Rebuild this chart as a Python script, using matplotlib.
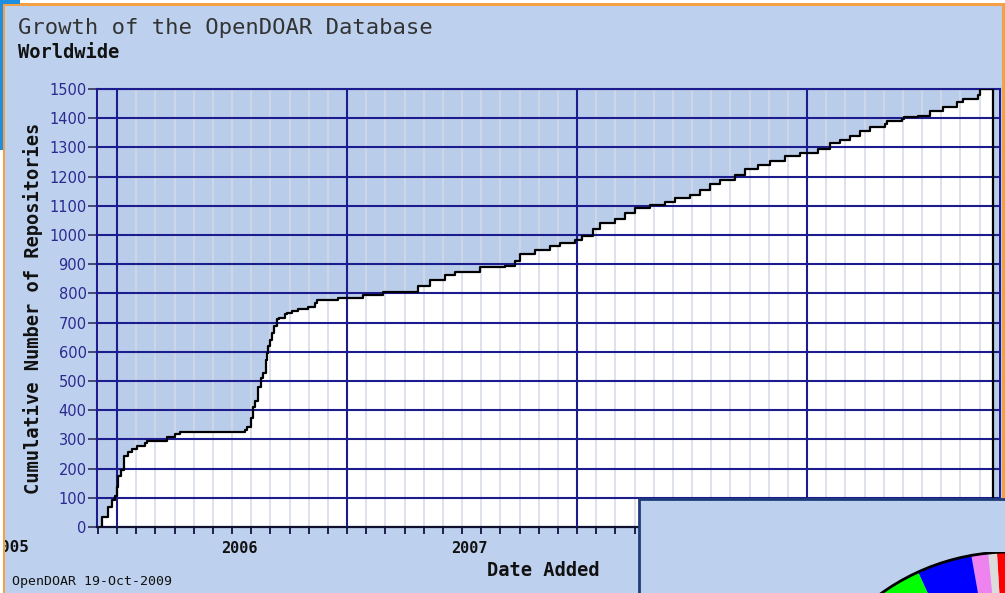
import matplotlib
matplotlib.use("Agg")
import matplotlib.pyplot as plt
from matplotlib.patches import Rectangle, Circle
import numpy as np

# ---------------- data ----------------
# date added (decimal year) at which the cumulative count steps up, and the new count
step_dates = [2005.9335, 2005.9622, 2005.9783, 2005.9913, 2005.9978, 2006.0043, 2006.0174,
              2006.0304, 2006.0465, 2006.0639, 2006.0857, 2006.1217, 2006.1291, 2006.2161,
              2006.2522, 2006.2739, 2006.5565, 2006.5652, 2006.5826, 2006.5913, 2006.6000,
              2006.6130, 2006.6261, 2006.6361, 2006.6478, 2006.6522, 2006.6578, 2006.6652,
              2006.6726, 2006.6826, 2006.6943, 2006.7043, 2006.7304, 2006.7404, 2006.7596,
              2006.7883, 2006.8317, 2006.8609, 2006.8683, 2006.9622, 2007.0709, 2007.1578,
              2007.3087, 2007.3609, 2007.4261, 2007.4696, 2007.5783, 2007.6870, 2007.7304,
              2007.7522, 2007.8174, 2007.8826, 2007.9261, 2007.9913, 2008.0217, 2008.0696,
              2008.1000, 2008.1652, 2008.2087, 2008.2522, 2008.3174, 2008.3826, 2008.4261,
              2008.4913, 2008.5348, 2008.5783, 2008.6217, 2008.6870, 2008.7304, 2008.7870,
              2008.8391, 2008.9043, 2008.9696, 2009.0478, 2009.1000, 2009.1435, 2009.1870,
              2009.2304, 2009.2739, 2009.3391, 2009.3478, 2009.4130, 2009.4196, 2009.4826,
              2009.5348, 2009.5913, 2009.6522, 2009.6783, 2009.7435, 2009.7522]
step_counts = [35, 67, 93, 105, 138, 174, 196,
               243, 256, 268, 276, 289, 295, 307,
               318, 325, 333, 344, 375, 410, 432,
               480, 510, 527, 573, 596, 619, 642,
               665, 688, 711, 716, 728, 734, 739,
               747, 754, 768, 779, 785, 796, 805,
               824, 845, 862, 872, 889, 893, 910,
               934, 948, 961, 972, 982, 995, 1020,
               1040, 1054, 1075, 1092, 1102, 1112, 1126,
               1136, 1153, 1174, 1188, 1205, 1226, 1239,
               1253, 1270, 1280, 1294, 1315, 1325, 1338,
               1357, 1369, 1380, 1391, 1397, 1403, 1409,
               1426, 1437, 1454, 1466, 1480, 1500]
report_date = 2009.8087          # 19-Oct-2009
x_start, x_end = 2005.913, 2009.839
years = [2006, 2007, 2008, 2009]
year_labels = ["2006", "2007"]
y_ticks = list(range(0, 1501, 100))

# partial pie in the overlapping panel (fractions, counter-clockwise from top)
pie_values = [0.94, 0.64, 1.22, 4.03, 20.0, 73.17]
pie_colors = ["#ff0000", "#dcdcdc", "#ee82ee", "#0000ff", "#00ff00", "#ffff00"]

# ---------------- styling ----------------
W, H = 1005, 593
BG = "#bdd1ee"
PLOT_BG = "#b9cdea"
DARK_BLUE = "#1c1c8e"
LABEL_BLUE = "#2a2a90"
MONO = "DejaVu Sans Mono"

fig = plt.figure(figsize=(W / 100, H / 100), dpi=100, facecolor=BG)

ax = fig.add_axes([97 / W, (H - 527) / H, 903 / W, 438 / H], zorder=1)
ax.set_facecolor(PLOT_BG)
ax.set_xlim(x_start, x_end)
ax.set_ylim(0, 1500)

# cumulative step curve
xs = [step_dates[0]] + step_dates + [report_date, report_date]
ys = [0] + step_counts + [step_counts[-1], 0]
ax.fill_between(xs, ys, step="post", color="white", lw=0, zorder=1)

# monthly light grid lines
months = np.arange(-1, 47) / 12.0 + 2006
minor = [m for m in months if abs(m - round(m)) > 1e-6 and x_start < m < x_end]
ax.vlines(minor, 0, 1500, colors="#d3dae7", lw=1.1, zorder=2)
# yearly and horizontal dark grid lines
ax.vlines(years, 0, 1500, colors=DARK_BLUE, lw=1.5, zorder=3)
ax.hlines(y_ticks[1:], x_start, x_end, colors=DARK_BLUE, lw=1.5, zorder=3)

ax.plot(xs, ys, drawstyle="steps-post", color="black", lw=1.6, zorder=4)

# axes / ticks
for side in ["left", "top", "right"]:
    ax.spines[side].set_color(DARK_BLUE)
    ax.spines[side].set_linewidth(1.5)
ax.spines["bottom"].set_color("#101030")
ax.spines["bottom"].set_linewidth(1.6)
ax.set_yticks(y_ticks)
ax.set_yticklabels([str(t) for t in y_ticks], color=LABEL_BLUE, fontsize=10.5,
                   fontfamily="DejaVu Sans")
ax.tick_params(axis="y", length=6.5, width=1.2, color="#303060", pad=1)
tick_months = [m for m in months if x_start < m < x_end]
ax.set_xticks(tick_months)
ax.set_xticklabels([])
ax.tick_params(axis="x", length=5, width=1.3, color="#101040", direction="out")

# year labels (centred within year spans)
for lab in year_labels:
    ax.text(int(lab) + 0.53, -0.05, lab, transform=ax.get_xaxis_transform(),
            ha="center", va="center", fontsize=11, fontweight="bold", fontfamily=MONO,
            color="#111111")
fig.text(0 / W, (H - 548) / H, "005", ha="left", va="center", fontsize=11.5,
         fontweight="bold", fontfamily=MONO, color="#111111")

# titles and labels
fig.text(18 / W, (H - 28) / H, "Growth of the OpenDOAR Database", ha="left", va="center",
         fontsize=16, fontfamily=MONO, color="#333333")
fig.text(18 / W, (H - 52) / H, "Worldwide", ha="left", va="center",
         fontsize=13.5, fontweight="bold", fontfamily=MONO, color="#111111")
fig.text(33 / W, (H - 308) / H, "Cumulative Number of Repositories", rotation=90,
         ha="center", va="center", fontsize=13.5, fontweight="bold", fontfamily=MONO,
         color="#111111")
fig.text(543 / W, (H - 570) / H, "Date Added", ha="center", va="center",
         fontsize=13.5, fontweight="bold", fontfamily=MONO, color="#111111")
fig.text(12 / W, (H - 582) / H, "OpenDOAR 19-Oct-2009", ha="left", va="center",
         fontsize=9.5, fontfamily=MONO, color="#111111")

# ---------------- overlay decorations (page frame, overlapping panel) ----------------
ov = fig.add_axes([0, 0, 1, 1], zorder=5)
ov.set_xlim(0, W)
ov.set_ylim(H, 0)
ov.axis("off")
ov.patch.set_alpha(0)
ORANGE = "#f5a043"
FRAME_BLUE = "#1e8ee0"
ov.add_patch(Rectangle((0, 0), W, 3.3, fc="white", ec="none"))
ov.add_patch(Rectangle((0, 0), 2.7, H, fc="white", ec="none"))
ov.add_patch(Rectangle((2.7, 3.3), W, 2.7, fc=ORANGE, ec="none"))
ov.add_patch(Rectangle((2.7, 3.3), 2.6, H, fc=ORANGE, ec="none"))
ov.add_patch(Rectangle((1002.3, 3.3), 3, 496, fc=ORANGE, ec="none"))
ov.add_patch(Rectangle((0, 0), 20, 4, fc=FRAME_BLUE, ec="none"))
ov.add_patch(Rectangle((0, 0), 2.7, 150, fc=FRAME_BLUE, ec="none"))
ov.add_patch(Rectangle((639, 499), 420, 140, fc=BG, ec="#1f3c7a", lw=2))

# partial pie chart
pa = fig.add_axes([789 / W, (H - 994) / H, 442 / W, 442 / H], zorder=6)
pa.pie(pie_values, colors=pie_colors, startangle=90, counterclock=True,
       wedgeprops=dict(linewidth=0))
pa.add_patch(Circle((0, 0), 1, fill=False, ec="black", lw=2))
pa.set_xlim(-1, 1)
pa.set_ylim(-1, 1)
pa.axis("off")

fig.savefig("out.png", dpi=100, facecolor=BG)
